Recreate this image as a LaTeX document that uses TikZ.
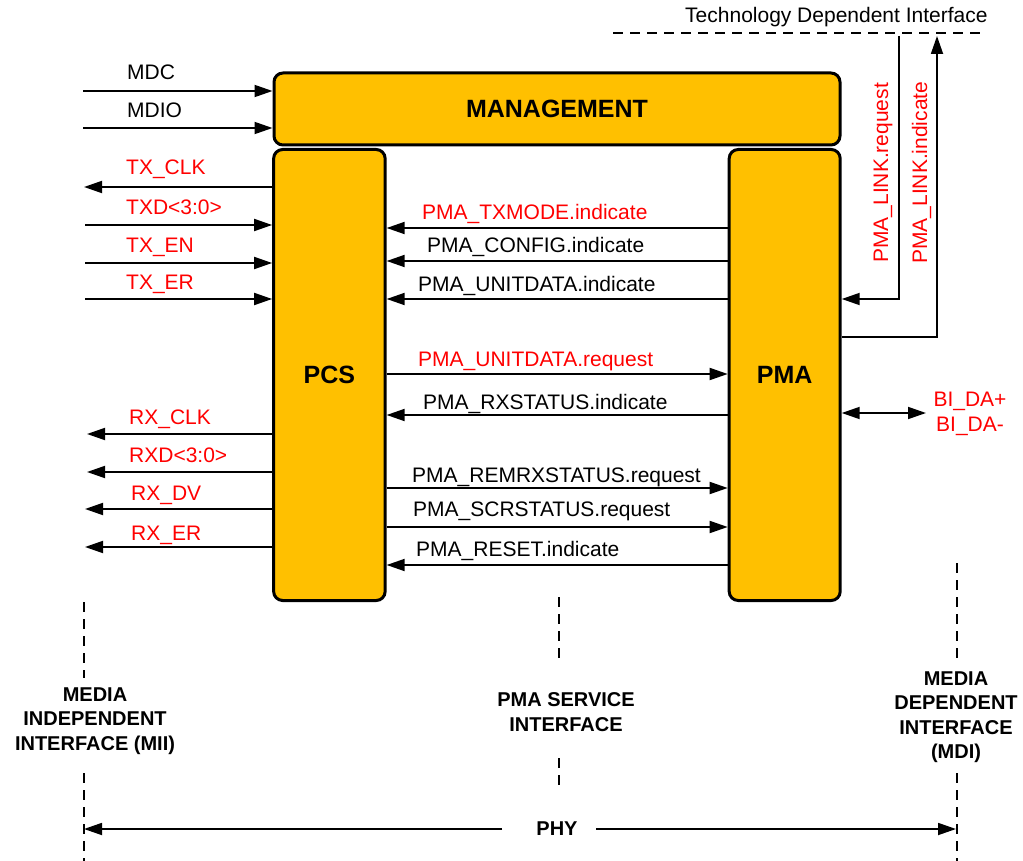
\documentclass[tikz,border=0pt]{standalone}
\usepackage{fontspec}
\setmainfont{Liberation Sans}
\usetikzlibrary{arrows.meta,calc}
\definecolor{boxfill}{HTML}{FFC000}
\definecolor{sigred}{HTML}{FF0000}
\begin{document}
\begin{tikzpicture}[x=1pt,y=-1pt,
  blk/.style={draw=black, line width=3pt, fill=boxfill, rounded corners=9pt, inner sep=0pt,
    font=\fontsize{25}{30}\selectfont\bfseries},
  arr/.style={line width=1.8pt, -{Triangle[length=18pt,width=12pt]}},
  darr/.style={line width=1.8pt, {Triangle[length=18pt,width=12pt]}-{Triangle[length=18pt,width=12pt]}},
  lbl/.style={anchor=base west, inner sep=0pt, font=\fontsize{21}{25}\selectfont},
  sigtxt/.style={text=sigred},
  ifline/.style={line width=1.3pt, dash pattern=on 10pt off 7pt},
  bl/.style={align=center, inner sep=0pt, font=\fontsize{20}{24.5}\selectfont\bfseries}
]
\useasboundingbox (0,0) rectangle (1023,861);

% blocks
\node[blk, minimum width=566pt, minimum height=72pt] (mgmt) at (557,109) {MANAGEMENT};
\node[blk, minimum width=111.5pt, minimum height=451pt] (pcs) at (329.4,375) {PCS};
\node[blk, minimum width=111pt, minimum height=451pt] (pma) at (784.7,375) {PMA};

% row coordinates
\foreach \n/\y in {mdc/91, mdio/128, txclk/187, txd/225, txen/263, txer/299,
                   rxclk/434, rxd/472, rxdv/509, rxer/547,
                   txmode/228, config/261, uind/299, ureq/374, rxst/415,
                   remrx/488, scr/527, reset/565, lreq/299, lind/337, bida/413}
  \coordinate (r\n) at (0,\y);

% left side endpoints
\coordinate (mdcS) at (83,91);
\coordinate (mdioS) at (83,128);
\coordinate (txclkE) at (84,187);
\coordinate (txdS) at (85,225);
\coordinate (txenS) at (85,263);
\coordinate (txerS) at (85,299);
\coordinate (rxclkE) at (87,434);
\coordinate (rxdE) at (87,472);
\coordinate (rxdvE) at (85,509);
\coordinate (rxerE) at (85,547);

\draw[arr] (mdcS) -- (mgmt.west |- rmdc);
\draw[arr] (mdioS) -- (mgmt.west |- rmdio);
\draw[arr] (pcs.west |- rtxclk) -- (txclkE);
\draw[arr] (txdS) -- (pcs.west |- rtxd);
\draw[arr] (txenS) -- (pcs.west |- rtxen);
\draw[arr] (txerS) -- (pcs.west |- rtxer);
\draw[arr] (pcs.west |- rrxclk) -- (rxclkE);
\draw[arr] (pcs.west |- rrxd) -- (rxdE);
\draw[arr] (pcs.west |- rrxdv) -- (rxdvE);
\draw[arr] (pcs.west |- rrxer) -- (rxerE);

\node[lbl] (tMDC) at (127,80) {MDC};
\node[lbl] (tMDIO) at (127,118) {MDIO};
\node[lbl,sigtxt] (tTXCLK) at (126,175) {TX\_CLK};
\node[lbl,sigtxt] (tTXD) at (126,215) {TXD<3:0>};
\node[lbl,sigtxt] (tTXEN) at (126,253) {TX\_EN};
\node[lbl,sigtxt] (tTXER) at (126,290) {TX\_ER};
\node[lbl,sigtxt] (tRXCLK) at (129,424) {RX\_CLK};
\node[lbl,sigtxt] (tRXD) at (129,462) {RXD<3:0>};
\node[lbl,sigtxt] (tRXDV) at (131,500) {RX\_DV};
\node[lbl,sigtxt] (tRXER) at (131,540) {RX\_ER};

% PMA service interface primitives
\draw[arr] (pma.west |- rtxmode) -- (pcs.east |- rtxmode);
\draw[arr] (pma.west |- rconfig) -- (pcs.east |- rconfig);
\draw[arr] (pma.west |- ruind) -- (pcs.east |- ruind);
\draw[arr] (pcs.east |- rureq) -- (pma.west |- rureq);
\draw[arr] (pma.west |- rrxst) -- (pcs.east |- rrxst);
\draw[arr] (pcs.east |- rremrx) -- (pma.west |- rremrx);
\draw[arr] (pcs.east |- rscr) -- (pma.west |- rscr);
\draw[arr] (pma.west |- rreset) -- (pcs.east |- rreset);

\node[lbl,sigtxt] (tTXMODE) at (422,220) {PMA\_TXMODE.indicate};
\node[lbl] (tCONFIG) at (427,253) {PMA\_CONFIG.indicate};
\node[lbl] (tUIND) at (418,291) {PMA\_UNITDATA.indicate};
\node[lbl,sigtxt] (tUREQ) at (418,366) {PMA\_UNITDATA.request};
\node[lbl] (tRXST) at (423,409) {PMA\_RXSTATUS.indicate};
\node[lbl] (tREMRX) at (412,482) {PMA\_REMRXSTATUS.request};
\node[lbl] (tSCR) at (413,516) {PMA\_SCRSTATUS.request};
\node[lbl] (tRESET) at (416,556) {PMA\_RESET.indicate};

% technology dependent interface
\coordinate (tdiL) at (613,33);
\coordinate (tdiR) at (987,33);
\draw[ifline] (tdiL) -- (tdiR);
\node[lbl] (tTDI) at (685,23) {Technology Dependent Interface};
\coordinate (lreqTop) at (899,36);
\coordinate (lindTop) at (937,36);
\draw[arr] (lreqTop) |- (pma.east |- rlreq);
\draw[arr] (pma.east |- rlind) -| (lindTop);
\node[lbl,sigtxt,rotate=90] (tLREQ) at (888,263) {PMA\_LINK.request};
\node[lbl,sigtxt,rotate=90] (tLIND) at (927,264) {PMA\_LINK.indicate};

% MDI
\coordinate (bidaE) at (926,413);
\draw[darr] (pma.east |- rbida) -- (bidaE);
\node[align=center, inner sep=0pt, text=sigred, font=\fontsize{21}{25}\selectfont] (tBIDA) at (970,414) {BI\_DA+\\BI\_DA-};

% interface boundaries
\draw[ifline] (84,602) -- (84,678);
\draw[ifline] (84,773) -- (84,861);
\draw[ifline] (559,597) -- (559,660);
\draw[ifline] (559,758) -- (559,790);
\draw[ifline] (957,563) -- (957,660);
\draw[ifline] (957,773) -- (957,861);

\node[bl] (tMII) at (95,721) {MEDIA\\INDEPENDENT\\INTERFACE (MII)};
\node[bl] (tPSI) at (566,712) {PMA SERVICE\\INTERFACE};
\node[bl] (tMDI) at (956,717) {MEDIA\\DEPENDENT\\INTERFACE\\(MDI)};

% PHY span
\node[bl] (phy) at (557,829) {PHY};
\coordinate (phyL) at (502,829);
\coordinate (phyR) at (596,829);
\coordinate (miiX) at (84,829);
\coordinate (mdiX) at (956,829);
\draw[arr] (phyL) -- (miiX);
\draw[arr] (phyR) -- (mdiX);
\end{tikzpicture}
\end{document}
